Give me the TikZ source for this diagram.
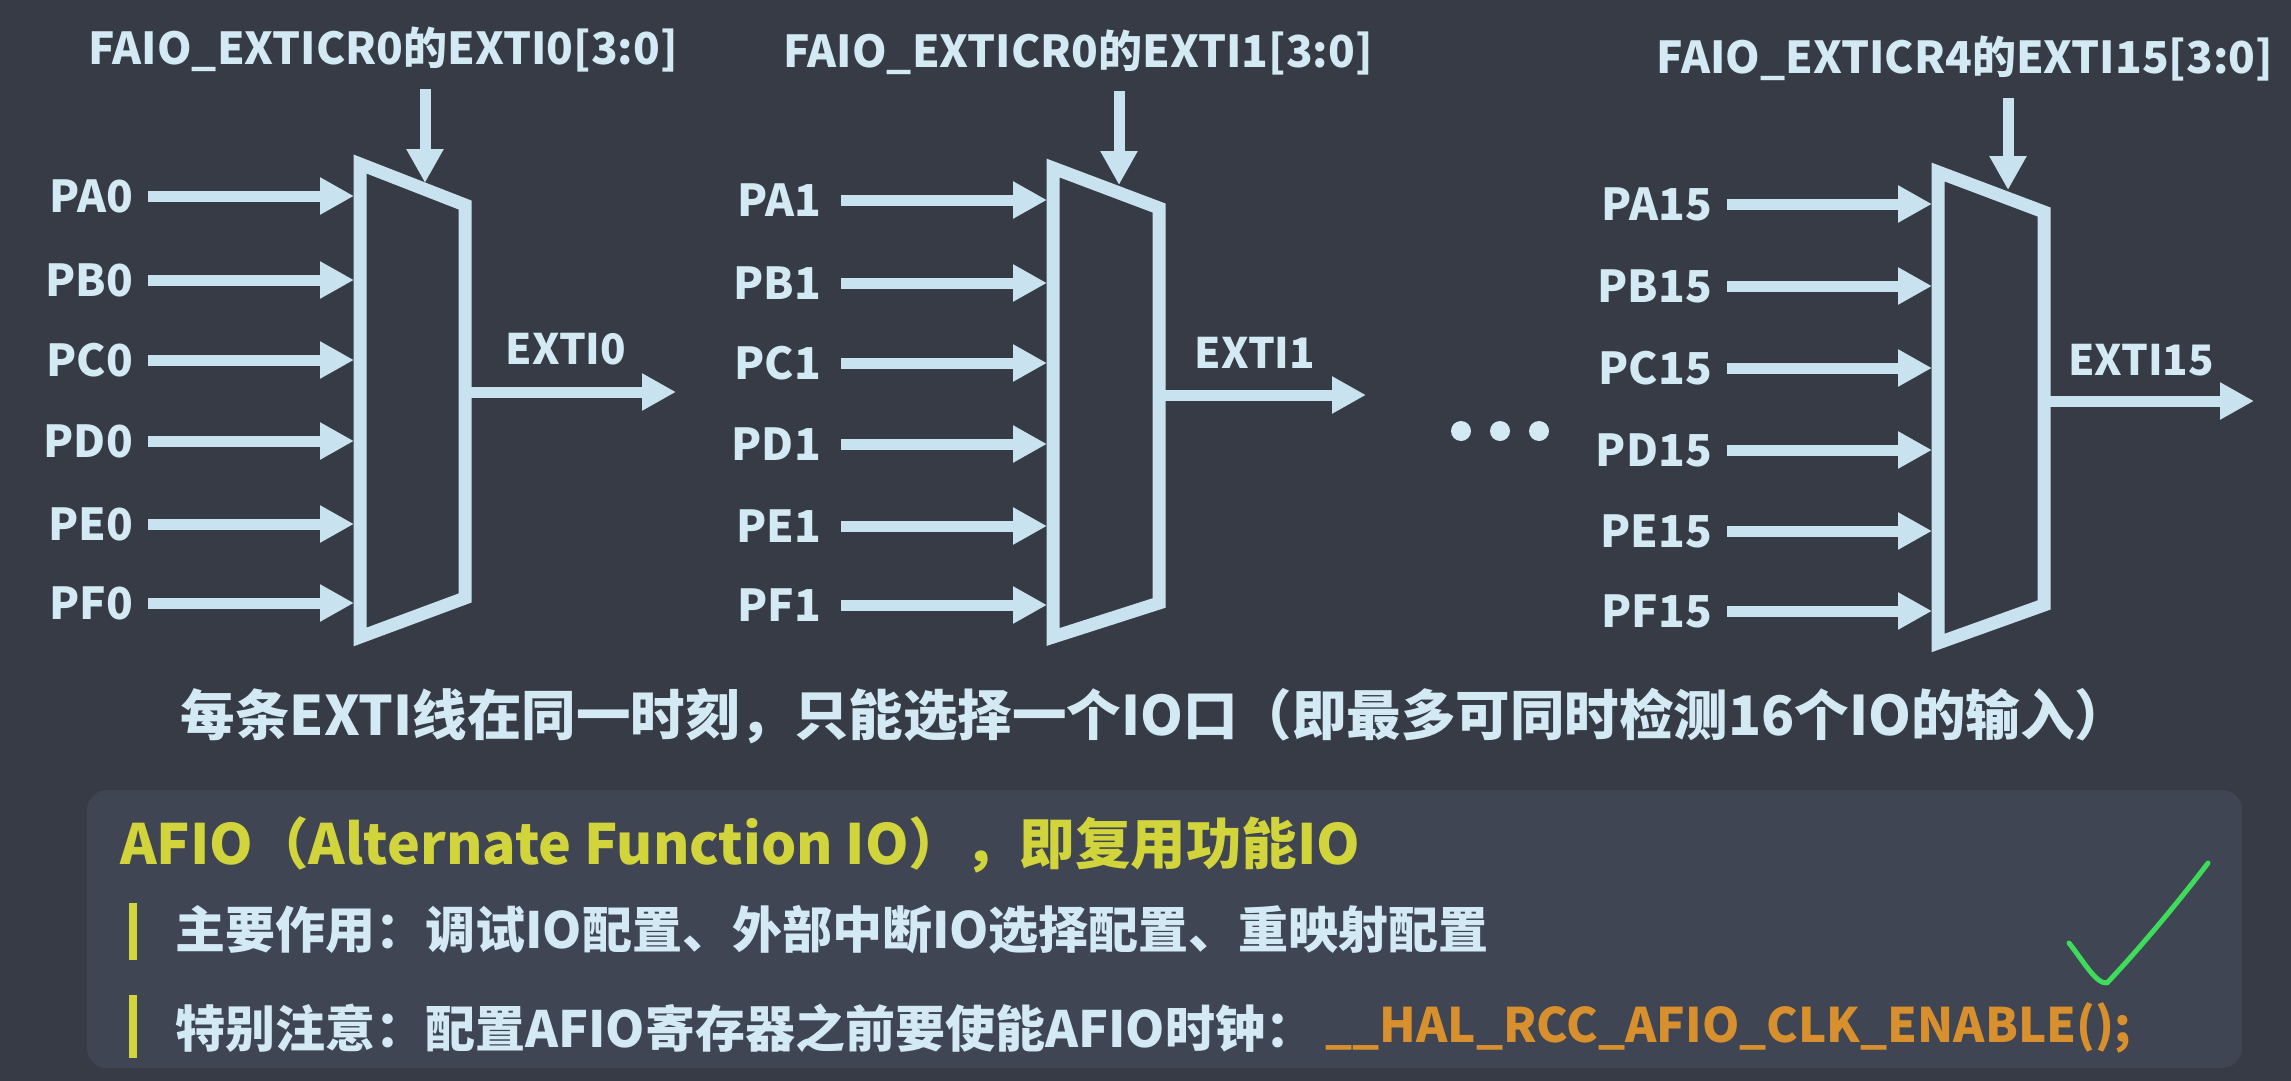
\documentclass[tikz,border=0pt]{standalone}
\usepackage{fontspec}
\setmainfont{Noto Sans CJK SC}
\usetikzlibrary{arrows.meta}
\definecolor{bg}{HTML}{363B45}
\definecolor{panel}{HTML}{3F4552}
\definecolor{wire}{HTML}{C8E3EF}
\definecolor{ink}{HTML}{D3EAF4}
\definecolor{hilite}{HTML}{D2D43C}
\definecolor{code}{HTML}{D8902E}
\definecolor{tick}{HTML}{3EDC5A}
\begin{document}
\begin{tikzpicture}[x=1pt,y=-1pt,
  fat/.style={draw=wire, line width=11pt, -{Triangle[length=34pt,width=35pt]}},
  muxline/.style={draw=wire, line width=13pt, line join=miter},
  lbl/.style={text=ink, inner sep=0pt, font=\bfseries\fontsize{44}{50}\selectfont},
  outlbl/.style={text=ink, inner sep=0pt, font=\bfseries\fontsize{42}{48}\selectfont},
  said/.style={text=ink, inner sep=0pt, font=\bfseries\fontsize{54.5}{60}\selectfont},
  head/.style={text=hilite, inner sep=0pt, font=\bfseries\fontsize{55.5}{60}\selectfont},
  item/.style={text=ink, inner sep=0pt, font=\bfseries\fontsize{50}{56}\selectfont},
  codeitem/.style={text=code, inner sep=0pt, font=\bfseries\fontsize{47.5}{56}\selectfont},
  bar/.style={draw=hilite, line width=8pt},
  dot/.style={fill=ink, circle, inner sep=0pt, minimum size=20pt}]
\fill[bg] (0,0) rectangle (2291,1081);
\useasboundingbox (0,0) rectangle (2291,1081);

% ---------- multiplexer for EXTI0 ----------
\coordinate (m0tl) at (360,164);
\coordinate (m0tr) at (465,205);
\coordinate (m0br) at (465,598);
\coordinate (m0bl) at (360,637);
\draw[muxline] (m0tl) -- (m0tr) -- (m0br) -- (m0bl) -- cycle;
\foreach \p/\y in {A/196,B/280,C/360,D/441,E/524,F/603}{
  \node[lbl, anchor=east] (P\p0) at (133,\y) {P\p0};
  \coordinate (P\p0in) at (354,\y);
  \draw[fat] ([xshift=15pt]P\p0.east) -- (P\p0in);
}
\node[lbl, anchor=base] (sel0) at (383,65) {FAIO\_EXTICR0的EXTI0[3:0]};
\coordinate (sel0top) at (425,89);
\coordinate (sel0end) at (425,183);
\draw[fat] (sel0top) -- (sel0end);
\coordinate (m0out) at (465,392);
\coordinate (e0end) at (676,392);
\draw[fat] (m0out) -- (e0end);
\node[outlbl] (x0) at (566,349) {EXTI0};

% ---------- multiplexer for EXTI1 ----------
\coordinate (m1tl) at (1053,168);
\coordinate (m1tr) at (1159,208);
\coordinate (m1br) at (1159,603);
\coordinate (m1bl) at (1053,637);
\draw[muxline] (m1tl) -- (m1tr) -- (m1br) -- (m1bl) -- cycle;
\foreach \p/\y in {A/200,B/283,C/363,D/444,E/526,F/605}{
  \node[lbl, anchor=east] (P\p1) at (821,\y) {P\p1};
  \coordinate (P\p1in) at (1047,\y);
  \draw[fat] ([xshift=20pt]P\p1.east) -- (P\p1in);
}
\node[lbl, anchor=base] (sel1) at (1078,67) {FAIO\_EXTICR0的EXTI1[3:0]};
\coordinate (sel1top) at (1119,91);
\coordinate (sel1end) at (1119,185);
\draw[fat] (sel1top) -- (sel1end);
\coordinate (m1out) at (1159,395);
\coordinate (e1end) at (1366,395);
\draw[fat] (m1out) -- (e1end);
\node[outlbl] (x1) at (1255,353) {EXTI1};

% ---------- ellipsis between the blocks ----------
\node[dot] (d1) at (1461,431) {};
\node[dot] (d2) at (1500,431) {};
\node[dot] (d3) at (1539,431) {};

% ---------- multiplexer for EXTI15 ----------
\coordinate (m2tl) at (1938,172);
\coordinate (m2tr) at (2044,212);
\coordinate (m2br) at (2044,605);
\coordinate (m2bl) at (1938,643);
\draw[muxline] (m2tl) -- (m2tr) -- (m2br) -- (m2bl) -- cycle;
\foreach \p/\y in {A/204,B/286,C/368,D/450,E/531,F/611}{
  \node[lbl, anchor=east] (P\p15) at (1712,\y) {P\p15};
  \coordinate (P\p15in) at (1932,\y);
  \draw[fat] ([xshift=15pt]P\p15.east) -- (P\p15in);
}
\node[lbl, anchor=base] (sel2) at (1965,74) {FAIO\_EXTICR4的EXTI15[3:0]};
\coordinate (sel2top) at (2008,98);
\coordinate (sel2end) at (2008,190);
\draw[fat] (sel2top) -- (sel2end);
\coordinate (m2out) at (2044,401);
\coordinate (e2end) at (2254,401);
\draw[fat] (m2out) -- (e2end);
\node[outlbl] (x2) at (2141,360) {EXTI15};

% ---------- summary line ----------
\node[said] (rule) at (1155,716) {每条EXTI线在同一时刻，只能选择一个IO口（即最多可同时检测16个IO的输入）};

% ---------- AFIO panel ----------
\fill[panel, rounded corners=20pt] (87,790) rectangle (2242,1068);
\node[head, anchor=west] (afio) at (120,845) {AFIO（Alternate Function IO），即复用功能IO};
\draw[bar] (133,903) -- (133,960);
\node[item, anchor=west] (use) at (175,930) {主要作用：调试IO配置、外部中断IO选择配置、重映射配置};
\draw[bar] (133,995) -- (133,1058);
\node[item, anchor=west] (note) at (175,1028) {特别注意：配置AFIO寄存器之前要使能AFIO时钟：};
\node[codeitem, anchor=west] (clk) at (1325,1028) {\_\_HAL\_RCC\_AFIO\_CLK\_ENABLE();};

% ---------- hand-drawn check mark ----------
\draw[tick, line width=5pt, line cap=round, line join=round]
  (2069,943) .. controls (2084,962) and (2096,984) .. (2107,983)
  .. controls (2140,948) and (2180,900) .. (2208,863);
\end{tikzpicture}
\end{document}
